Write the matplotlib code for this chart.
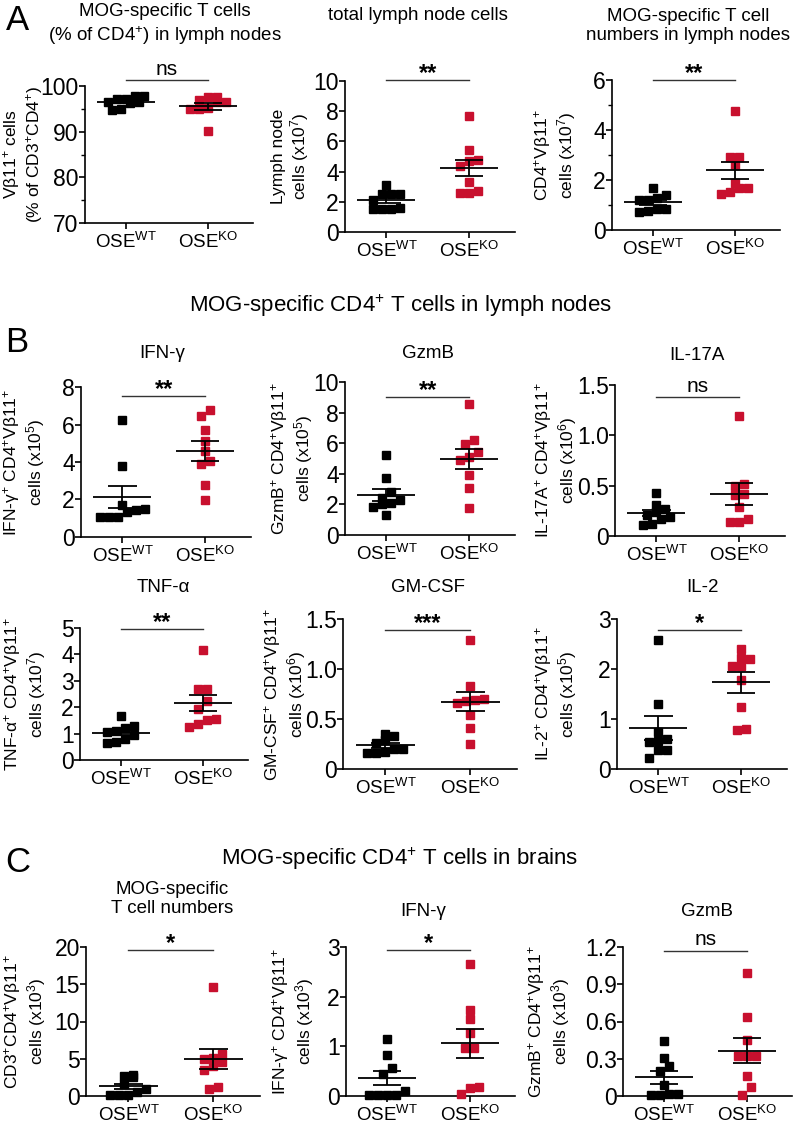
import numpy as np
import matplotlib
matplotlib.use("Agg")
import matplotlib.pyplot as plt
from matplotlib.ticker import MultipleLocator, FuncFormatter

plt.rcParams['font.family'] = ['Liberation Sans', 'DejaVu Sans']
plt.rcParams['mathtext.fontset'] = 'custom'
plt.rcParams['mathtext.rm'] = 'Liberation Sans'
plt.rcParams['mathtext.it'] = 'Liberation Sans:italic'
plt.rcParams['mathtext.bf'] = 'Liberation Sans:bold'

groups = ["OSE$^{\\mathrm{WT}}$", "OSE$^{\\mathrm{KO}}$"]
WT_COLOR = "black"
KO_COLOR = "#c8102e"

# A: lymph nodes
vb11_pct_wt = [97.8, 97.8, 97.2, 97.2, 96.6, 96.4, 96.3, 94.8, 95.0]
vb11_pct_ko = [97.7, 97.5, 96.9, 96.6, 96.5, 95.0, 94.9, 95.1, 90.2]
ln_cells_wt = [3.1, 2.5, 2.5, 2.5, 2.1, 1.5, 1.5, 1.5, 1.6]
ln_cells_ko = [7.7, 5.4, 4.8, 4.7, 4.4, 3.3, 2.7, 2.55, 2.6]
mog_ln_wt = [1.67, 1.4, 1.27, 1.2, 1.2, 0.85, 0.85, 0.72, 0.78]
mog_ln_ko = [4.77, 2.93, 2.93, 2.6, 1.87, 1.67, 1.7, 1.43, 1.53]

# B: cytokines in lymph nodes
ifng_wt = [6.26, 3.8, 1.72, 1.46, 1.5, 1.07, 1.07, 1.07, 1.33]
ifng_ko = [6.44, 6.76, 5.69, 5.1, 4.57, 3.9, 4.05, 2.76, 1.99]
gzmb_wt = [5.26, 3.7, 2.78, 2.45, 2.28, 2.07, 1.85, 1.3, 2.0]
gzmb_ko = [8.59, 6.24, 5.93, 5.43, 5.07, 4.93, 3.91, 3.04, 1.78]
il17_wt = [0.43, 0.31, 0.27, 0.24, 0.21, 0.19, 0.17, 0.11, 0.12]
il17_ko = [1.19, 0.52, 0.50, 0.42, 0.41, 0.29, 0.17, 0.14, 0.14]
tnf_wt = [1.65, 1.28, 1.22, 1.10, 1.05, 0.95, 0.78, 0.65, 0.68]
tnf_ko = [4.15, 2.70, 2.68, 2.25, 1.95, 1.55, 1.52, 1.38, 1.25]
gmcsf_wt = [0.35, 0.33, 0.29, 0.26, 0.20, 0.20, 0.16, 0.16, 0.17]
gmcsf_ko = [1.29, 0.83, 0.70, 0.69, 0.68, 0.66, 0.54, 0.41, 0.25]
il2_wt = [2.58, 1.31, 0.75, 0.61, 0.57, 0.55, 0.38, 0.38, 0.23]
il2_ko = [2.41, 2.23, 2.21, 2.07, 2.06, 1.78, 1.25, 0.78, 0.81]

# C: brains
brain_mog_wt = [2.8, 2.5, 2.7, 1.6, 0.9, 0.6, 0.2, 0.2, 0.2]
brain_mog_ko = [14.6, 5.6, 5.1, 5.0, 4.5, 4.0, 3.5, 1.2, 0.9]
brain_ifng_wt = [1.15, 0.83, 0.56, 0.45, 0.11, 0.03, 0.03, 0.03, 0.03]
brain_ifng_ko = [2.66, 1.73, 1.56, 1.26, 0.96, 0.96, 0.19, 0.16, 0.05]
brain_gzmb_wt = [0.445, 0.31, 0.24, 0.20, 0.09, 0.02, 0.01, 0.01, 0.02]
brain_gzmb_ko = [0.99, 0.64, 0.45, 0.32, 0.32, 0.32, 0.16, 0.07, 0.01]

W, H = 796, 1124
fig = plt.figure(figsize=(W / 100, H / 100), dpi=100)


def ftext(x, y, s, **kw):
    fig.text(x / W, 1 - y / H, s, **kw)


def swarm(ax, vals, size_px=9.0):
    # Prism-like rows: group close points by pixel height, centre each row
    ypx = ax.transData.transform(np.column_stack([np.zeros(len(vals)), vals]))[:, 1]
    px_per_x = ax.transData.transform([[1, 0]])[0, 0] - ax.transData.transform([[0, 0]])[0, 0]
    order = np.argsort(ypx)
    rows = []
    for idx in order:
        if rows and ypx[idx] - ypx[rows[-1][0]] < size_px * 0.9:
            rows[-1].append(idx)
        else:
            rows.append([idx])
    offs = np.zeros(len(vals))
    for row in rows:
        n = len(row)
        for k, idx in enumerate(row):
            offs[idx] = (k - (n - 1) / 2) * size_px / px_per_x
    return offs


def panel(rect, wt, ko, ylim, step, ylabel, label_dx, sig, sig_y, minor=None, dec=0):
    l, t, r, b = rect
    ax = fig.add_axes([l / W, 1 - b / H, (r - l) / W, (b - t) / H])
    ax.set_xlim(-0.5, 1.55)
    ax.set_ylim(*ylim)
    for s in ["top", "right"]:
        ax.spines[s].set_visible(False)
    for s in ["left", "bottom"]:
        ax.spines[s].set_linewidth(1.2)
    ax.yaxis.set_major_locator(MultipleLocator(step))
    if minor:
        ax.yaxis.set_minor_locator(MultipleLocator(minor))
    ax.yaxis.set_major_formatter(FuncFormatter(lambda v, p: "0" if abs(v) < 1e-9 else f"{v:.{dec}f}"))
    ax.tick_params(axis="y", which="major", labelsize=16.5, length=4, width=1.2, pad=0.5)
    ax.tick_params(axis="y", which="minor", length=3, width=1.0)
    ax.set_xticks([0, 1])
    ax.set_xticklabels(groups)
    ax.tick_params(axis="x", labelsize=13.5, length=4, width=1.2, pad=2.5)
    ftext(l + label_dx, (t + b) / 2, ylabel, rotation=90, ha="center", va="center",
          fontsize=12.5, linespacing=1.12)

    for i, (vals, col) in enumerate([(wt, WT_COLOR), (ko, KO_COLOR)]):
        vals = np.asarray(vals, dtype=float)
        xs = i + swarm(ax, vals)
        ax.plot(xs, vals, "s", ms=5.7, color=col, mec=col, ls="none", clip_on=False, zorder=3)
        m = vals.mean()
        se = vals.std(ddof=1) / np.sqrt(len(vals))
        ax.hlines(m, i - 0.35, i + 0.35, color="black", lw=1.3, zorder=4)
        ax.vlines(i, m - se, m + se, color="black", lw=1.3, zorder=4)
        ax.hlines([m - se, m + se], i - 0.17, i + 0.17, color="black", lw=1.3, zorder=4)

    ax.plot([0, 1], [sig_y, sig_y], color="#333333", lw=1.0, clip_on=False)
    if sig == "ns":
        ax.annotate(sig, (0.5, sig_y), xytext=(0, 4), textcoords="offset points",
                    ha="center", va="baseline", fontsize=15, annotation_clip=False)
    else:
        ax.annotate(sig, (0.5, sig_y), xytext=(0, 0), textcoords="offset points",
                    ha="center", va="baseline", fontsize=17, fontweight="bold",
                    annotation_clip=False)
    return ax


# row A
panel((85, 86, 253, 223), vb11_pct_wt, vb11_pct_ko, (70, 100), 10,
      "Vβ11$^{+}$ cells\n(% of CD3$^{+}$CD4$^{+}$)", -62, "ns", 101.3, minor=5)
panel((345, 81, 515, 232), ln_cells_wt, ln_cells_ko, (0, 10), 2,
      "Lymph node\ncells (x10$^{7}$)", -54, "**", 10.05)
panel((612, 80, 780, 230), mog_ln_wt, mog_ln_ko, (0, 6), 2,
      "CD4$^{+}$Vβ11$^{+}$\ncells (x10$^{7}$)", -57, "**", 6.0, minor=1)

# row B
panel((81, 387, 251, 537), ifng_wt, ifng_ko, (0, 8), 2,
      "IFN-γ$^{+}$ CD4$^{+}$Vβ11$^{+}$\ncells (x10$^{5}$)", -57, "**", 7.5)
panel((345, 382, 515, 535), gzmb_wt, gzmb_ko, (0, 10), 2,
      "GzmB$^{+}$ CD4$^{+}$Vβ11$^{+}$\ncells (x10$^{5}$)", -53, "**", 9.0)
panel((615, 385, 785, 536), il17_wt, il17_ko, (0, 1.5), 0.5,
      "IL-17A$^{+}$ CD4$^{+}$Vβ11$^{+}$\ncells (x10$^{6}$)", -59, "ns", 1.38, dec=1)
panel((80, 628, 248, 760), tnf_wt, tnf_ko, (0, 5), 1,
      "TNF-α$^{+}$ CD4$^{+}$Vβ11$^{+}$\ncells (x10$^{7}$)", -55, "**", 4.95)
panel((343, 619, 517, 769), gmcsf_wt, gmcsf_ko, (0, 1.5), 0.5,
      "GM-CSF$^{+}$ CD4$^{+}$Vβ11$^{+}$\ncells (x10$^{6}$)", -58, "***", 1.39, dec=1)
panel((617, 619, 787, 769), il2_wt, il2_ko, (0, 3), 1,
      "IL-2$^{+}$ CD4$^{+}$Vβ11$^{+}$\ncells (x10$^{5}$)", -61, "*", 2.78)

# row C
panel((86, 947, 260, 1096), brain_mog_wt, brain_mog_ko, (0, 20), 5,
      "CD3$^{+}$CD4$^{+}$Vβ11$^{+}$\ncells (x10$^{3}$)", -61, "*", 19.6)
panel((346, 947, 515, 1096), brain_ifng_wt, brain_ifng_ko, (0, 3), 1,
      "IFN-γ$^{+}$ CD4$^{+}$Vβ11$^{+}$\ncells (x10$^{3}$)", -53, "*", 2.93)
panel((623, 947, 792, 1096), brain_gzmb_wt, brain_gzmb_ko, (0, 1.2), 0.3,
      "GzmB$^{+}$ CD4$^{+}$Vβ11$^{+}$\ncells (x10$^{3}$)", -74, "ns", 1.17, dec=1)

# titles
tkw = dict(ha="center", va="center", fontsize=13.5)
ftext(165, 25, "MOG-specific T cells\n(% of CD4$^{+}$) in lymph nodes", **tkw)
ftext(418, 15, "total lymph node cells", **tkw)
ftext(688, 26, "MOG-specific T cell\nnumbers in lymph nodes", **tkw)
ftext(162, 353, "IFN-γ", **tkw)
ftext(428, 353, "GzmB", **tkw)
ftext(697, 355, "IL-17A", **tkw)
ftext(163, 588, "TNF-α", **tkw)
ftext(428, 588, "GM-CSF", **tkw)
ftext(703, 588, "IL-2", **tkw)
ftext(172, 899, "MOG-specific\nT cell numbers", **tkw)
ftext(423, 911, "IFN-γ", **tkw)
ftext(707, 911, "GzmB", **tkw)

ftext(400, 306, "MOG-specific CD4$^{+}$ T cells in lymph nodes", ha="center", va="center", fontsize=16)
ftext(400, 859, "MOG-specific CD4$^{+}$ T cells in brains", ha="center", va="center", fontsize=16)

for letter, (x, y) in zip("ABC", [(6, 21), (5, 342), (5, 863)]):
    ftext(x, y, letter, ha="left", va="center", fontsize=25)

fig.savefig("out.png", dpi=100)
